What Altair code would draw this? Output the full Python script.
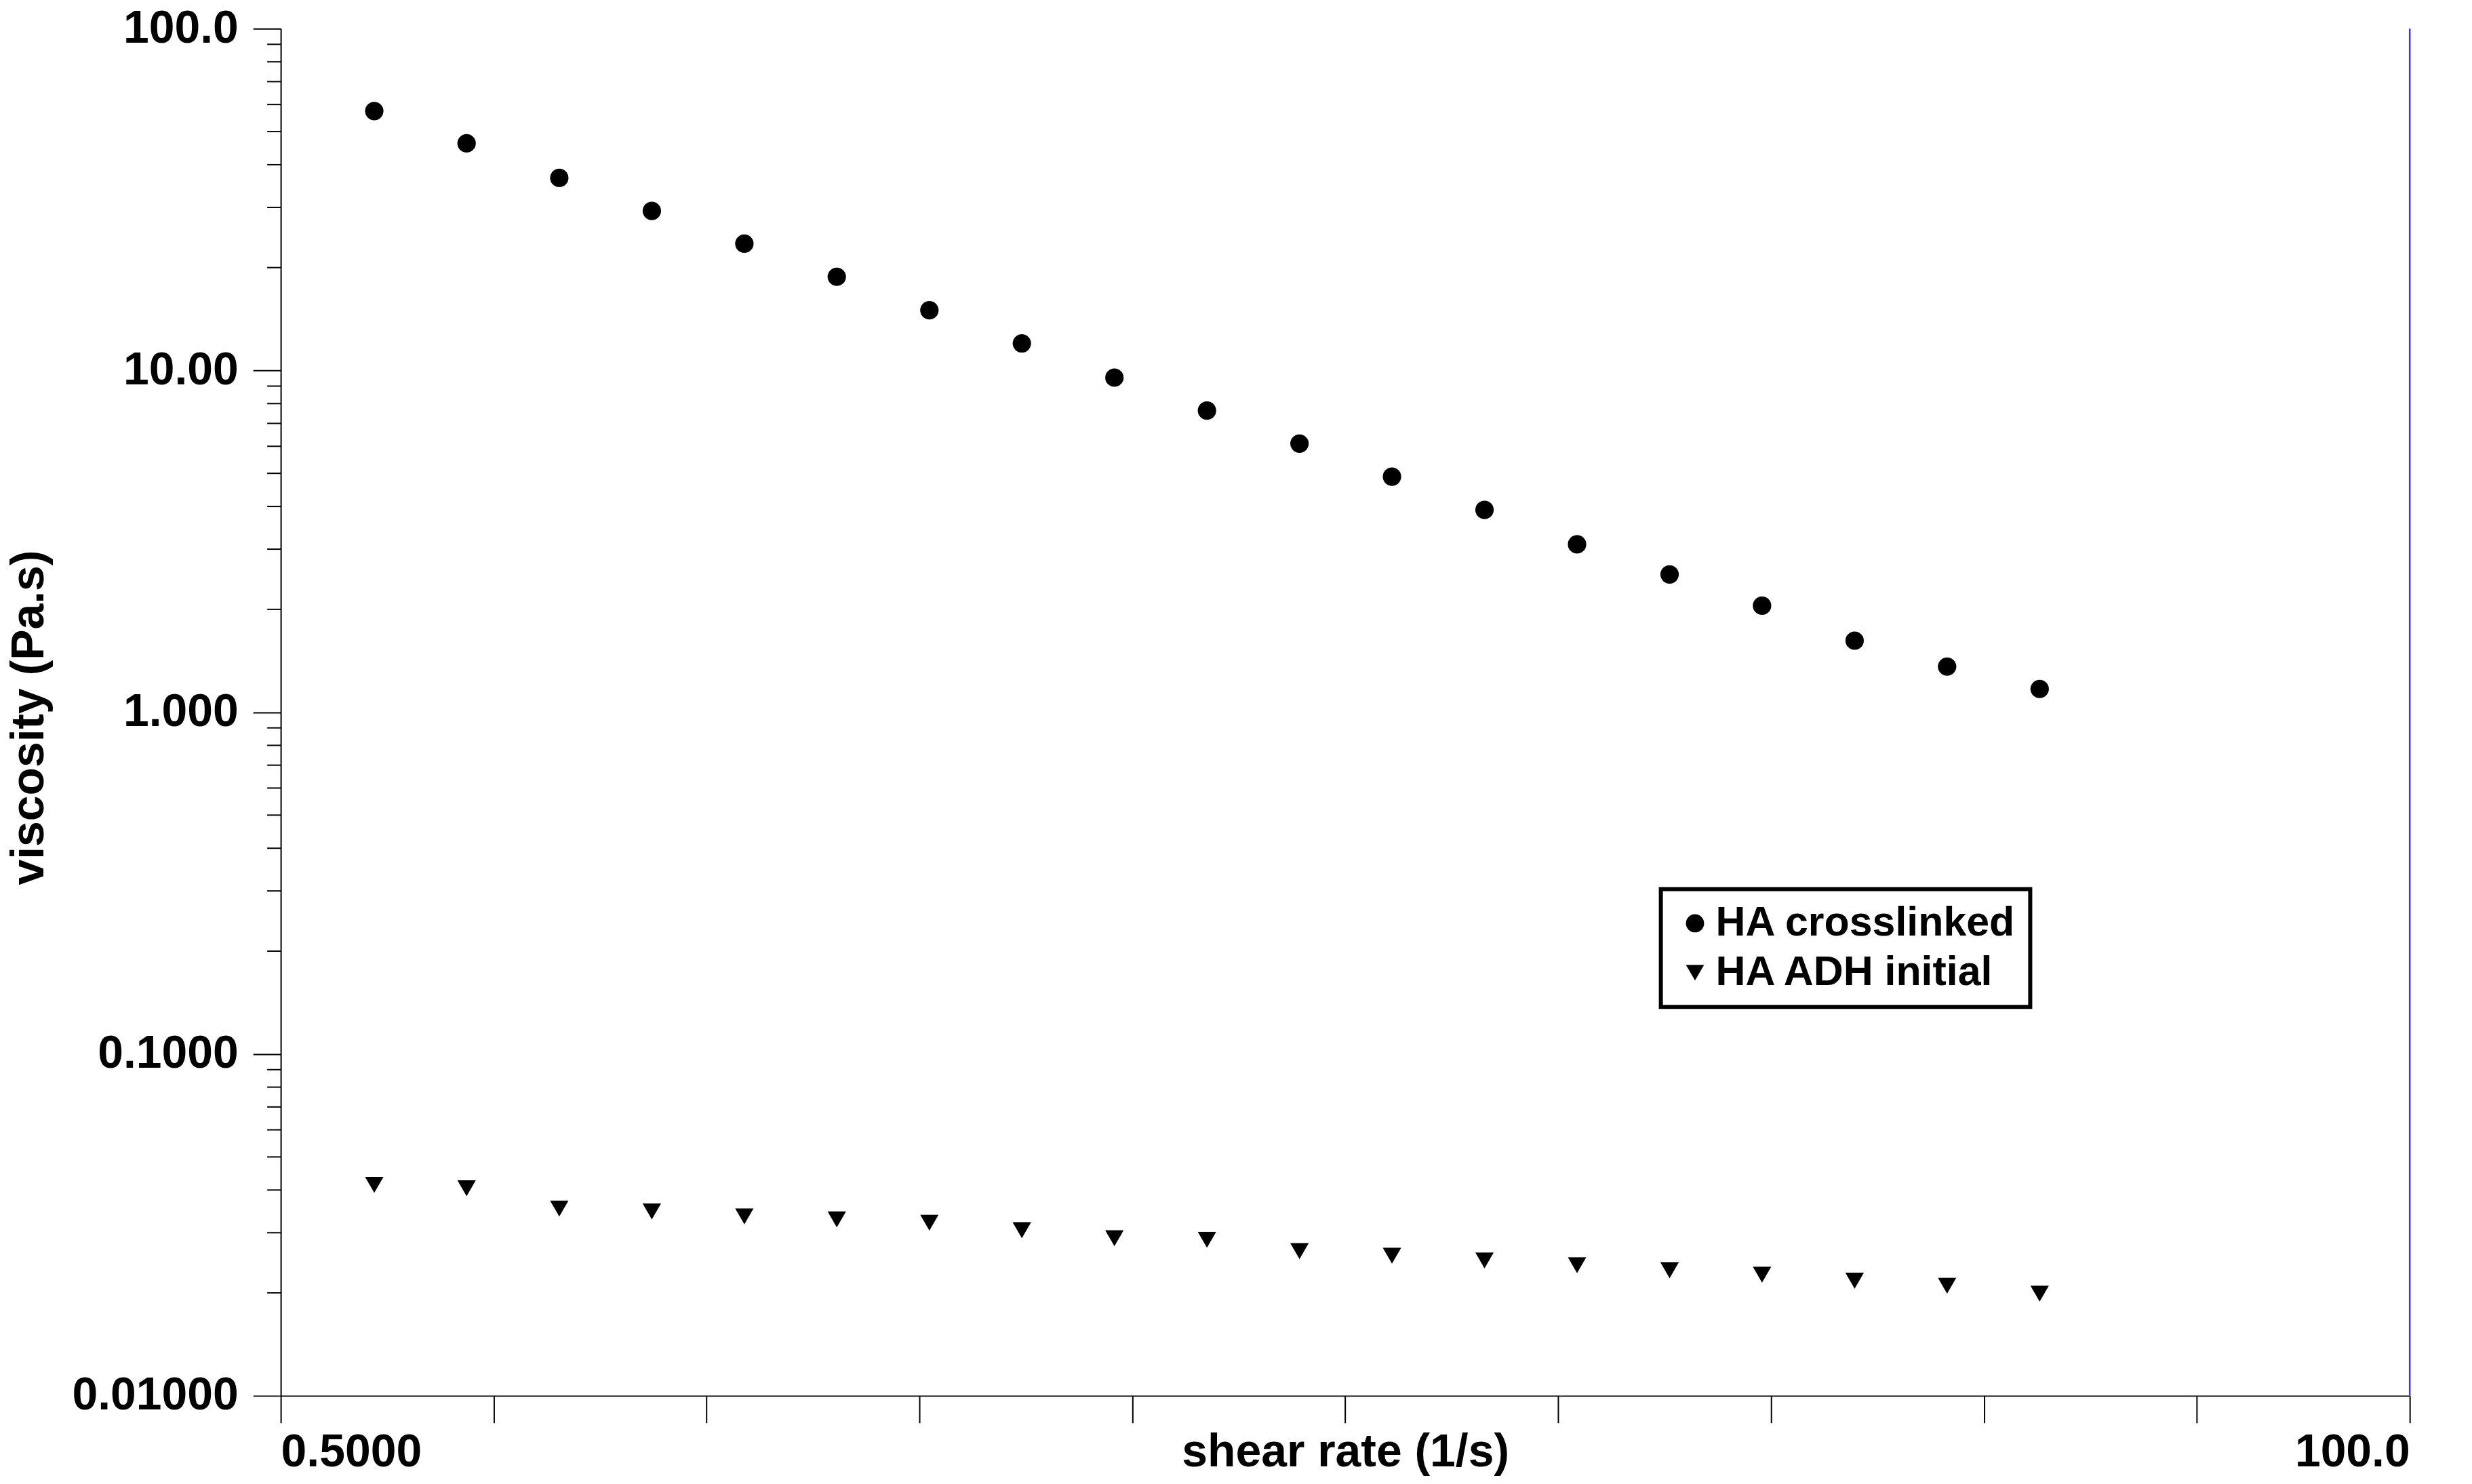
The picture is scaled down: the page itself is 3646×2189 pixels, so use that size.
import altair as alt
import pandas as pd

# shear rate (1/s), ten points per decade
shear_rate = [0.631, 0.794, 1.000, 1.259, 1.585, 1.995, 2.512, 3.162, 3.981, 5.012,
              6.310, 7.943, 10.00, 12.59, 15.85, 19.95, 25.12, 31.62, 39.81]

# viscosity (Pa.s)
visc_crosslinked = [57.4, 46.2, 36.6, 29.3, 23.5, 18.8, 15.0, 12.0, 9.53, 7.63,
                    6.11, 4.89, 3.91, 3.10, 2.53, 2.05, 1.62, 1.36, 1.17]
visc_adh_initial = [0.0414, 0.0405, 0.0353, 0.0346, 0.0335, 0.0328, 0.0321, 0.0305, 0.0289, 0.0286,
                    0.0265, 0.0257, 0.0249, 0.0241, 0.0233, 0.0226, 0.0217, 0.0210, 0.0199]

series_names = ["HA crosslinked", "HA ADH initial"]

# axis ticks
x_ticks = [0.5 * 200 ** (i / 10) for i in range(11)]
y_ticks = [0.01, 0.1, 1.0, 10.0, 100.0]
y_minor = [m * 10.0 ** e for e in range(-2, 2) for m in range(2, 10)]

df = pd.concat([
    pd.DataFrame({"shear": shear_rate, "viscosity": visc_crosslinked, "series": series_names[0]}),
    pd.DataFrame({"shear": shear_rate, "viscosity": visc_adh_initial, "series": series_names[1]}),
])
df_minor = pd.DataFrame({"viscosity": y_minor})
df_edge = pd.DataFrame({"shear": [100.0]})

FONT = "Liberation Sans"
W, H = 3147, 2021

x_enc = alt.X("shear:Q", scale=alt.Scale(type="log", domain=[0.5, 100], nice=False),
              title="shear rate (1/s)",
              axis=alt.Axis(values=x_ticks, format=".4r",
                            labelExpr="(datum.value < 0.51 || datum.value > 99) ? datum.label : ''",
                            tickSize=40, labelPadding=10, titleY=104, titleBaseline="alphabetic"))
y_enc = alt.Y("viscosity:Q", scale=alt.Scale(type="log", domain=[0.01, 100], nice=False),
              title="viscosity (Pa.s)",
              axis=alt.Axis(values=y_ticks, format=".4r", tickSize=41, labelPadding=22,
                            titleX=-351, titleY=1018, titleBaseline="alphabetic"))

points = alt.Chart(df).mark_point(filled=True, opacity=1, size=740, strokeWidth=0).encode(
    x=x_enc,
    y=y_enc,
    shape=alt.Shape("series:N",
                    scale=alt.Scale(domain=series_names, range=["circle", "triangle-down"]),
                    legend=alt.Legend(title=None, orient="none", legendX=2040, legendY=1272,
                                      strokeColor="black", fillColor="white",
                                      padding=20, labelFontSize=61, labelFont=FONT,
                                      labelFontWeight="bold", labelColor="black",
                                      labelLimit=700, labelOffset=0, rowPadding=11,
                                      symbolSize=720, symbolFillColor="black",
                                      symbolStrokeWidth=0, symbolOpacity=1)),
    color=alt.value("black"),
)

# minor ticks on the log y axis
minor_ticks = alt.Chart(df_minor).mark_rule(color="black", strokeWidth=2).encode(
    y=y_enc,
    x=alt.value(-20),
    x2=alt.value(0),
)

# blue line on the right edge of the plot
right_edge = alt.Chart(df_edge).mark_rule(color="#4433cc", strokeWidth=2.5).encode(
    x=x_enc,
)

chart = alt.layer(minor_ticks, right_edge, points).properties(
    width=W, height=H,
    autosize=alt.AutoSizeParams(type="none"),
    padding={"left": 407, "top": 32, "right": 84, "bottom": 120},
    background="white",
).configure_view(
    strokeWidth=0
).configure_axis(
    grid=False,
    domainColor="black", domainWidth=2,
    tickColor="black", tickWidth=2,
    labelFont=FONT, labelFontSize=68, labelFontWeight="bold", labelColor="black",
    labelLimit=500, labelOverlap=False,
    titleFont=FONT, titleFontSize=68, titleFontWeight="bold", titleColor="black",
).configure_legend(
    strokeWidth=6
)

chart.save("out.html", embed_options={"renderer": "svg", "actions": False})
